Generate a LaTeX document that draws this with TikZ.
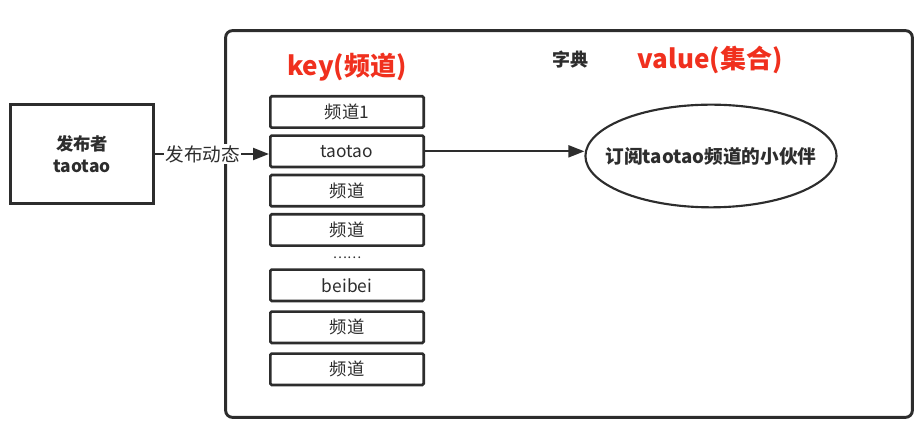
\documentclass[tikz,border=0pt]{standalone}
\usepackage{fontspec}
\setmainfont{Noto Sans CJK SC}
\usetikzlibrary{arrows.meta, positioning, shapes.geometric, calc}
\definecolor{my_red}{RGB}{240, 48, 30}
\definecolor{my_dark}{RGB}{45, 45, 45}
\tikzset {
  bigbox/.style = {draw=my_dark, line width=2.2pt, rounded corners=5pt, rectangle, minimum width=515pt, minimum height=290pt},
  pubbox/.style = {draw=my_dark, line width=2pt, rectangle, align=center, minimum width=107pt, minimum height=74pt, text=my_dark, font=\fontsize{13pt}{17pt}\selectfont\bfseries},
  chanbox/.style = {draw=my_dark, line width=2pt, rectangle, rounded corners=1pt, minimum width=115pt, minimum height=23.5pt, text=my_dark, font=\fontsize{13pt}{15pt}\selectfont},
  % negative xsep keeps the ellipse from growing round the long text
  subs/.style = {draw=my_dark, line width=1.6pt, ellipse, inner xsep=-12.5pt, minimum width=182pt, minimum height=77pt, text=my_dark, font=\fontsize{14pt}{16pt}\selectfont\bfseries},
  title/.style = {text=my_red, font=\fontsize{19.5pt}{22pt}\selectfont\bfseries},
  plain/.style = {text=my_dark, font=\fontsize{13.5pt}{16pt}\selectfont\bfseries},
  line/.style = {-{Triangle[length=12pt, width=9pt]}, line width=1.6pt, color=my_dark}
}

\begin{document}
\begin{tikzpicture}[x=0.75pt, y=-0.75pt]
    \useasboundingbox (0,0) rectangle (922,434);

    \node[bigbox] (dict) at (569,224) {};
    \node[pubbox] (pub) at (82,154) {发布者\\taotao};

    \node[chanbox] (ch1) at (347,112) {频道1};
    \node[chanbox, below=4pt of ch1] (ch2) {taotao};
    \node[chanbox, below=4pt of ch2] (ch3) {频道};
    \node[chanbox, below=4pt of ch3] (ch4) {频道};
    \node[chanbox, below=16pt of ch4] (ch5) {beibei};
    \node[chanbox, below=6pt of ch5] (ch6) {频道};
    \node[chanbox, below=6pt of ch6] (ch7) {频道};
    \node[text=my_dark, font=\fontsize{10pt}{12pt}\selectfont] (dots) at ($(ch4.south)!0.5!(ch5.north)$) {……};

    \node[title, above=6.5pt of ch1] (keylabel) {key(频道)};
    \node[plain] (dictlabel) at (570,60) {字典};
    \node[title] (valuelabel) at (710,60) {value(集合)};

    \node[subs] (subs) at (711,156) {订阅taotao频道的小伙伴};

    \draw[line] (pub.east) -- node[pos=0.42, fill=white, inner sep=1pt, text=my_dark, font=\fontsize{14pt}{16pt}\selectfont] {发布动态} (pub.east -| ch2.west);
    \draw[line] (ch2.east) -- (ch2.east -| subs.west);

\end{tikzpicture}
\end{document}
